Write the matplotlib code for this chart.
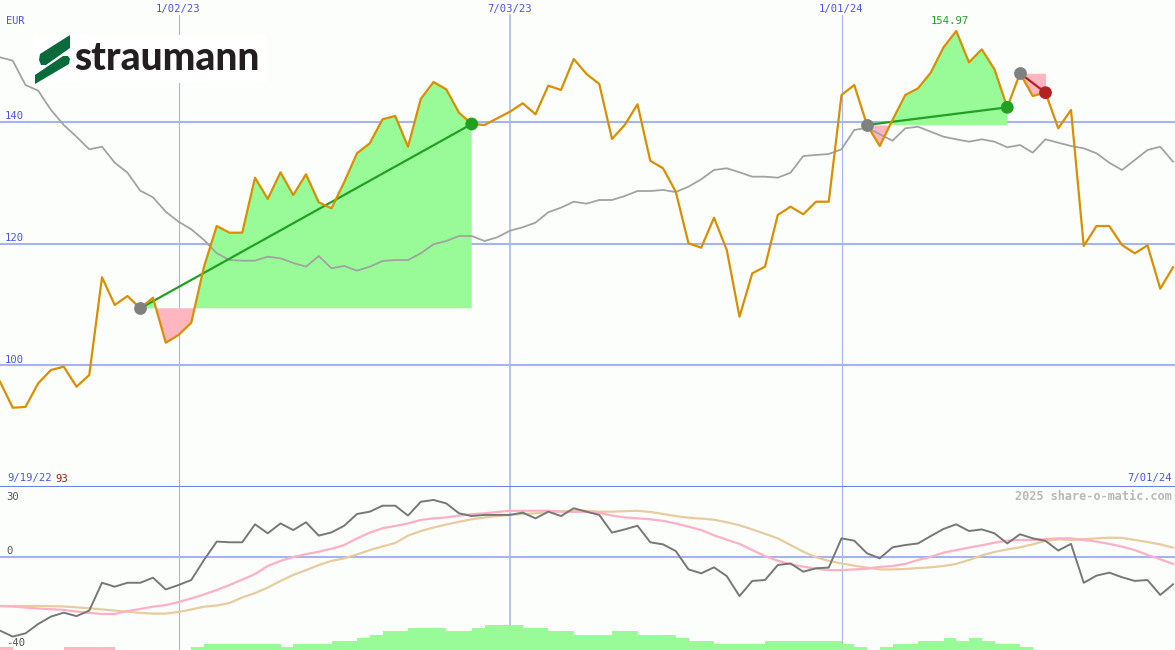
#!/usr/bin/env python3
import matplotlib
matplotlib.use('Agg')
import matplotlib.pyplot as plt
from matplotlib.patches import Polygon, Rectangle

BG = '#fcfefc'
GRID = '#a4b4f0'
RULE = '#6a80e8'
BLUE_TXT = '#4a52f0'
PRICE_C = '#db8e00'
AVG_C = '#a2a2a2'
GAIN = '#98fb98'
LOSS = '#ffb6c1'
WIN_C = '#22a022'
LOSE_C = '#b22222'
DOT_C = '#808080'
OSC_C = '#777777'
FAST_C = '#ffb0c4'
SLOW_C = '#e6cc9e'
MONO = 'DejaVu Sans Mono'

W, H = 1175, 650
TOP_H = 487      # px height of the price panel
PX_WEEK = 12.75  # px per weekly step

# weekly closes, 9/19/22 .. 7/01/24
price = [97.25, 92.97, 93.1, 97.0, 99.18, 99.72, 96.43, 98.35, 114.44, 109.88,
         111.36, 109.33, 111.08, 103.67, 104.94, 106.96, 116.18, 122.88, 121.78, 121.78,
         130.83, 127.33, 131.72, 127.98, 131.39, 126.78, 125.79, 130.12, 134.85, 136.49,
         140.44, 140.99, 135.93, 143.79, 146.58, 145.38, 141.53, 139.67, 139.51, 140.61,
         141.70, 143.08, 141.27, 145.98, 145.27, 150.37, 147.9, 146.26, 137.20, 139.51,
         142.91, 133.63, 132.38, 128.53, 120.03, 119.31, 124.25, 118.93, 107.95, 115.09,
         116.18, 124.69, 126.06, 124.81, 126.88, 126.88, 144.44, 146.09, 139.51, 136.05,
         140.33, 144.44, 145.54, 148.12, 152.29, 154.97, 149.82, 151.96, 148.67, 142.41,
         148.02, 144.28, 144.83, 138.96, 141.98, 119.59, 122.88, 122.88, 119.75, 118.38,
         119.70, 112.56, 116.08]

# moving average (gray)
avg = [150.65, 150.09, 146.09, 145.15, 141.98, 139.51, 137.58, 135.50, 135.93, 133.30,
       131.65, 128.69, 127.60, 125.23, 123.59, 122.34, 120.58, 118.39, 117.28, 117.17,
       117.17, 117.83, 117.56, 116.8, 116.18, 117.94, 115.92, 116.30, 115.53, 116.18,
       117.12, 117.28, 117.28, 118.39, 119.87, 120.41, 121.23, 121.23, 120.41, 121.02,
       122.11, 122.67, 123.43, 125.14, 125.90, 126.88, 126.56, 127.16, 127.16, 127.82,
       128.64, 128.64, 128.81, 128.48, 129.35, 130.57, 132.10, 132.38, 131.72, 131.00,
       131.00, 130.83, 131.65, 134.40, 134.57, 134.73, 135.50, 138.68, 139.06, 138.0,
       136.92, 138.96, 139.23, 138.40, 137.58, 137.15, 136.76, 137.15, 136.76, 135.83,
       136.21, 134.95, 137.15, 136.59, 136.05, 135.67, 134.85, 133.30, 132.10, 133.74,
       135.39, 135.93, 133.47]

# oscillator panel
osc = [-32.0, -34.6, -33.2, -29.1, -25.9, -24.2, -25.7, -23.3, -11.2, -12.9,
       -11.2, -11.2, -9.0, -14.1, -12.2, -10.0, -1.3, 6.7, 6.4, 6.4,
       14.2, 10.3, 14.6, 11.7, 15.1, 9.3, 10.7, 13.6, 18.7, 19.7,
       22.3, 22.3, 18.0, 24.0, 24.8, 23.3, 19.0, 17.8, 18.3, 18.3,
       18.3, 19.3, 16.8, 19.7, 17.8, 21.2, 19.7, 18.3, 10.6, 12.0,
       13.6, 6.4, 5.5, 2.6, -5.4, -7.1, -4.5, -8.3, -17.0, -10.4,
       -10.0, -3.5, -2.8, -6.4, -4.9, -4.6, 8.1, 7.1, 1.6, -0.6,
       4.2, 5.2, 5.9, 9.1, 12.2, 14.2, 11.3, 12.0, 10.3, 5.9,
       9.9, 8.1, 7.0, 2.8, 5.7, -11.2, -8.1, -6.8, -8.8, -10.4,
       -10.0, -16.5, -11.9]

fast = [-21.3, -21.5, -22.0, -22.4, -22.7, -23.0, -23.7, -24.3, -24.8, -24.8,
        -23.5, -22.6, -21.6, -20.9, -19.6, -18.0, -16.3, -14.3, -12.2, -9.8,
        -7.4, -3.9, -1.7, 0.0, 1.2, 2.3, 3.6, 5.2, 8.1, 10.6,
        12.5, 13.5, 14.6, 16.1, 16.8, 17.2, 18.0, 18.6, 19.0, 19.6,
        20.1, 20.1, 20.1, 20.1, 19.7, 19.6, 19.6, 19.2, 18.0, 17.2,
        16.8, 16.4, 15.7, 14.6, 13.2, 11.7, 9.4, 7.5, 5.7, 3.0,
        0.4, -1.6, -3.2, -4.2, -5.1, -5.7, -5.7, -5.4, -5.1, -4.3,
        -3.9, -3.0, -1.3, 0.1, 1.9, 3.0, 4.1, 5.1, 6.2, 7.1,
        7.4, 7.4, 7.8, 8.1, 8.1, 7.4, 6.7, 5.7, 4.5, 3.0,
        0.9, -1.0, -3.0]

slow = [-21.3, -21.3, -21.3, -21.3, -21.4, -21.5, -21.9, -22.3, -22.8, -23.3,
        -23.8, -24.3, -24.6, -24.6, -23.9, -22.8, -21.6, -21.1, -20.0, -17.6,
        -15.7, -13.3, -10.4, -7.8, -5.7, -3.5, -1.7, -0.6, 1.1, 3.0,
        4.6, 6.1, 9.3, 11.3, 12.8, 14.1, 15.3, 16.4, 17.2, 17.8,
        18.3, 18.7, 19.0, 19.6, 19.8, 20.0, 20.1, 19.7, 19.7, 19.9,
        20.1, 19.6, 18.7, 17.8, 17.1, 16.7, 16.2, 15.1, 13.8, 12.0,
        10.1, 8.1, 5.2, 2.3, -0.1, -1.7, -2.8, -3.8, -4.6, -5.4,
        -5.4, -5.2, -4.8, -4.5, -3.9, -3.0, -1.3, 0.7, 2.2, 3.3,
        4.2, 5.5, 7.0, 7.7, 7.4, 7.7, 8.1, 8.4, 8.3, 7.4,
        6.5, 5.5, 4.1]

# histogram (one bar per week, drawn up from the panel floor)
hist = [-1.4, 0, 0, 0, 0, -1.4, -1.4, -1.4, -1.4, 0,
        0, 0, 0, 0, 0, 1.4, 2.6, 2.6, 2.6, 2.6,
        2.6, 2.6, 1.4, 2.6, 2.6, 2.6, 4.0, 4.0, 5.3, 6.5,
        8.3, 8.3, 9.7, 9.7, 9.7, 8.3, 8.3, 9.7, 10.9, 10.9,
        10.9, 9.7, 9.7, 8.3, 8.3, 6.5, 6.5, 6.5, 8.3, 8.3,
        6.5, 6.5, 6.5, 5.3, 4.0, 4.0, 2.6, 2.6, 2.6, 2.6,
        4.0, 4.0, 4.0, 4.0, 4.0, 4.0, 2.6, 1.4, 0, 1.4,
        2.6, 2.6, 4.0, 4.0, 5.3, 4.0, 5.3, 4.0, 2.6, 2.6,
        1.4, 0, 0, 0, 0, 0, 0, 0, 0, 0,
        0, 0]

date_ticks = [14, 40, 66]
date_labels = ['1/02/23', '7/03/23', '1/01/24']
price_ticks = [100, 120, 140]
osc_ticks = [30, 0, -40]
first_date, last_date, n_weeks = '9/19/22', '7/01/24', '93'
currency = 'EUR'
trade_in = [11, 68, 80]
trade_out = [37, 79, 82]

x = list(range(len(price)))

fig = plt.figure(figsize=(W / 100, H / 100), dpi=100, facecolor=BG)
low_h = (H - TOP_H) / H
ax = fig.add_axes([0, low_h, 1, TOP_H / H])
ax2 = fig.add_axes([0, 0, 1, low_h])
for a in (ax, ax2):
    a.set_facecolor(BG)
    a.set_xlim(0, W / PX_WEEK)
    a.set_xticks([])
    a.set_yticks([])
    for s in a.spines.values():
        s.set_visible(False)
ax.spines['bottom'].set_visible(True)
ax.spines['bottom'].set_color(RULE)
ax.spines['bottom'].set_linewidth(2.2)
ax.set_ylim(79.92, 160.08)
ax2.set_ylim(-40.43, 30.43)

# grid
for p in price_ticks:
    ax.axhline(p, color=GRID, lw=1.5, zorder=1)
for d in date_ticks:
    lw = 1.1 if d == 40 else 0.8
    ax.axvline(d, ymax=1 - 15 / TOP_H, color=GRID, lw=lw, zorder=1)
    ax2.axvline(d, color=GRID, lw=lw, zorder=1)

# trades
for e, o in zip(trade_in, trade_out):
    xs, ys, base = x[e:o + 1], price[e:o + 1], price[e]
    ax.fill_between(xs, ys, base, where=[v >= base for v in ys], interpolate=True,
                    color=GAIN, lw=0, zorder=2)
    ax.fill_between(xs, ys, base, where=[v <= base for v in ys], interpolate=True,
                    color=LOSS, lw=0, zorder=2)
    c = WIN_C if price[o] > base else LOSE_C
    ax.plot([e, o], [base, price[o]], color=c, lw=1.6, zorder=4)

ax.plot(x, avg, color=AVG_C, lw=1.3, zorder=3)
ax.plot(x, price, color=PRICE_C, lw=1.6, zorder=5)
ax.scatter(trade_in, [price[e] for e in trade_in], s=85, color=DOT_C, zorder=6, lw=0)
ax.scatter(trade_out, [price[o] for o in trade_out], s=85, lw=0, zorder=6,
           color=[WIN_C if price[o] > price[e] else LOSE_C for e, o in zip(trade_in, trade_out)])

imax = max(x, key=lambda i: price[i])
ax.annotate(f'{price[imax]:.2f}', (imax, price[imax]), xytext=(-4.3, 7.2),
            textcoords='offset points', ha='center', va='center',
            family=MONO, fontsize=7.6, color=WIN_C)

# labels on the price panel
for p in price_ticks:
    ax.annotate(str(p), (5 / W, p), xycoords=ax.get_yaxis_transform(), xytext=(0, 1.8),
                textcoords='offset points', va='baseline', ha='left',
                family=MONO, fontsize=7.6, color=BLUE_TXT)
for d, lab in zip(date_ticks, date_labels):
    ax.text(d, 1 - 9 / TOP_H, lab, transform=ax.get_xaxis_transform(), ha='center',
            va='center', family=MONO, fontsize=7.6, color=BLUE_TXT)
ax.text(6 / W, 1 - 21.5 / TOP_H, currency, transform=ax.transAxes, ha='left', va='center',
        family=MONO, fontsize=7.4, color=BLUE_TXT)
ax.text(7 / W, 8.5 / TOP_H, first_date, transform=ax.transAxes, ha='left', va='center',
        family=MONO, fontsize=7.6, color=BLUE_TXT)
ax.text(55 / W, 8.5 / TOP_H, n_weeks, transform=ax.transAxes, ha='left', va='center',
        family=MONO, fontsize=7.6, color='#a01818')
ax.text(1172 / W, 8.5 / TOP_H, last_date, transform=ax.transAxes, ha='right', va='center',
        family=MONO, fontsize=7.6, color=BLUE_TXT)

# oscillator panel
ax2.axhline(0, color=GRID, lw=1.5, zorder=1)
floor = ax2.get_ylim()[0]
ax2.bar(x[:len(hist)], [abs(h) for h in hist], width=1, align='edge', bottom=floor,
        color=[GAIN if h > 0 else LOSS for h in hist], lw=0, zorder=2)
ax2.plot(x, slow, color=SLOW_C, lw=1.6, zorder=3)
ax2.plot(x, fast, color=FAST_C, lw=1.6, zorder=3)
ax2.plot(x, osc, color=OSC_C, lw=1.4, zorder=4)
for v in osc_ticks:
    if v == max(osc_ticks):
        ax2.annotate(str(v), (6 / W, v), xycoords=ax2.get_yaxis_transform(), xytext=(0, -3),
                     textcoords='offset points', va='top', ha='left',
                     family=MONO, fontsize=7.6, color='#555555')
    else:
        ax2.annotate(str(v), (6 / W, v), xycoords=ax2.get_yaxis_transform(), xytext=(0, 2.2),
                     textcoords='offset points', va='baseline', ha='left',
                     family=MONO, fontsize=7.6, color='#555555')
ax2.text(1172 / W, (H - 496) / (H - TOP_H), '2025 share-o-matic.com', transform=ax2.transAxes,
         ha='right', va='center', family=MONO, fontsize=8.6, fontweight='bold', color='#b8b8b8')

# logo overlay (pixel coordinates)
deco = fig.add_axes([0, 0, 1, 1], zorder=10)
deco.set_xlim(0, W)
deco.set_ylim(H, 0)
deco.axis('off')
deco.patch.set_alpha(0)
deco.add_patch(Rectangle((33, 35), 234, 48, color='#ffffff', lw=0))
deco.add_patch(Polygon([(70, 35), (70, 48), (46, 65), (41, 65), (39, 60), (40, 54)],
                       closed=True, color='#0a6b3a', lw=0))
deco.add_patch(Polygon([(35, 75), (63, 56), (68, 56), (70, 59), (69, 64), (35, 84)],
                       closed=True, color='#0a6b3a', lw=0))
deco.text(74, 70, 'straumann', family='Lato', fontweight='black', fontsize=28,
          color='#231f20', ha='left', va='baseline')

fig.savefig('out.png', dpi=100, facecolor=BG)
